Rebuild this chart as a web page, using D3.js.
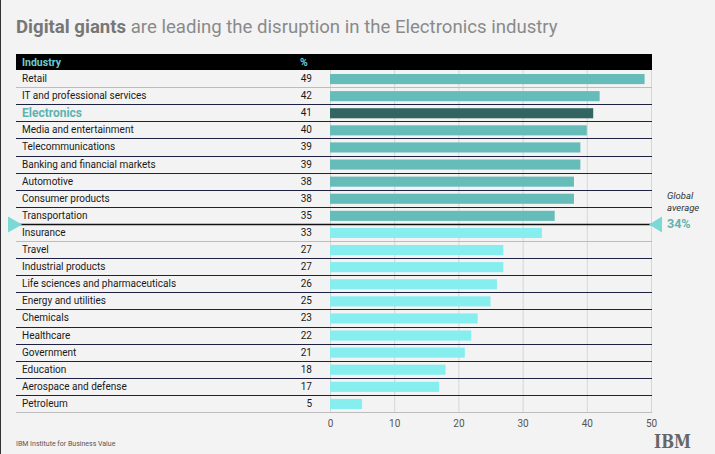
<!DOCTYPE html>
<html><head><meta charset="utf-8">
<script src="https://cdn.jsdelivr.net/npm/d3@7"></script>
<style>
html,body{margin:0;padding:0;background:#f3f3f3;}
svg{display:block;font-family:Roboto,"Noto Sans",sans-serif;}
</style></head>
<body>
<svg id="c" width="715" height="454"></svg>
<script>
const industries = ["Retail","IT and professional services","Electronics","Media and entertainment","Telecommunications","Banking and financial markets","Automotive","Consumer products","Transportation","Insurance","Travel","Industrial products","Life sciences and pharmaceuticals","Energy and utilities","Chemicals","Healthcare","Government","Education","Aerospace and defense","Petroleum"];
const values = [49,42,41,40,39,39,38,38,35,33,27,27,26,25,23,22,21,18,17,5];
const highlight = "Electronics";
const globalAverage = 34;
const xTicks = [0,10,20,30,40,50];

(function(){
const svg = d3.select("#c");
const L = 16, R = 652, T = 70, B = 412;

svg.append("rect").attr("width",715).attr("height",454).attr("fill","#f3f3f3");
svg.append("line").attr("x1",0.5).attr("x2",0.5).attr("y1",0).attr("y2",454).attr("stroke","#333").attr("stroke-width",1);

// title
const title = svg.append("text").attr("x",16).attr("y",33).attr("font-size",18.6).attr("fill","#8a8a8a");
title.append("tspan").attr("font-weight","bold").attr("fill","#777").text("Digital giants");
title.append("tspan").text(" are leading the disruption in the Electronics industry");

const x = d3.scaleLinear().domain([0,50]).range([330,651]);
const y = d3.scaleBand().domain(industries).range([T,B]).paddingInner(0).paddingOuter(0);

// header
svg.append("rect").attr("x",L).attr("y",54).attr("width",R-L).attr("height",16).attr("fill","#000");
svg.append("text").attr("x",22).attr("y",66).attr("font-size",10.5).attr("font-weight","bold").attr("fill","#6ccfcf").text("Industry");
svg.append("text").attr("x",300).attr("y",66).attr("font-size",10.5).attr("font-weight","bold").attr("fill","#6ccfcf").text("%");

// grid
svg.append("g").selectAll("line").data(xTicks).join("line")
  .attr("x1",d=>x(d)+0.5).attr("x2",d=>x(d)+0.5).attr("y1",T).attr("y2",B)
  .attr("stroke","#d6d6d6").attr("stroke-width",1);

// bars
const color = (d,i)=> d===highlight ? "#326462" : (values[i] > globalAverage ? "#66bcb9" : "#86eeee");
svg.append("g").selectAll("rect").data(industries).join("rect")
  .attr("x",x(0)).attr("y",d=>y(d)+4).attr("height",y.bandwidth()-7)
  .attr("width",(d,i)=>x(values[i])-x(0)).attr("fill",color);

// separators
const idxAvg = values.findIndex(v=>v<globalAverage);
svg.append("g").selectAll("line").data(industries).join("line")
  .attr("x1",L).attr("x2",R)
  .attr("y1",d=>Math.round(y(d)+y.bandwidth())+0.5).attr("y2",d=>Math.round(y(d)+y.bandwidth())+0.5)
  .attr("stroke",(d,i)=> (i===0||i===idxAvg||i===industries.length-1) ? "#bdbdbd" : (i===idxAvg-1 ? "#111" : "#1e2142"))
  .attr("stroke-width",(d,i)=> i===idxAvg-1 ? 1.3 : 1);

// labels
svg.append("g").selectAll("text").data(industries).join("text")
  .attr("x",22).attr("y",d=>y(d)+y.bandwidth()/2+ (d===highlight?4.5:3.5))
  .attr("font-size",d=>d===highlight?12:10)
  .attr("font-weight",d=>d===highlight?"bold":"normal")
  .attr("fill",d=>d===highlight?"#5fb3b0":"#1a1a1a")
  .text(d=>d);
svg.append("g").selectAll("text").data(industries).join("text")
  .attr("x",312).attr("y",d=>y(d)+y.bandwidth()/2+3.5).attr("text-anchor","end")
  .attr("font-size",10).attr("fill","#1a1a1a")
  .text((d,i)=>values[i]);

// x axis
const ax = svg.append("g").attr("transform",`translate(0,${B})`)
  .call(d3.axisBottom(x).tickValues(xTicks).tickSize(0).tickPadding(8));
ax.select(".domain").remove();
ax.selectAll("text").attr("font-size",10).attr("fill","#555").attr("font-family","Roboto,sans-serif");

// global average markers
const avgY = Math.round(y(industries[idxAvg]))+0.5;
svg.append("path").attr("d",`M8,${avgY-8}L22,${avgY}L8,${avgY+8}Z`).attr("fill","#7ad9d4");
svg.append("path").attr("d",`M662,${avgY-8}L649,${avgY}L662,${avgY+8}Z`).attr("fill","#7ad9d4");
svg.append("text").attr("x",667).attr("y",199).attr("font-size",9.5).attr("font-style","italic").attr("fill","#333").text("Global");
svg.append("text").attr("x",667).attr("y",211).attr("font-size",9.5).attr("font-style","italic").attr("fill","#333").text("average");
svg.append("text").attr("x",667).attr("y",228).attr("font-size",12.5).attr("font-weight","bold").attr("fill","#5fb3b0").text(globalAverage+"%");

// footer
svg.append("text").attr("x",16).attr("y",446).attr("font-size",7).attr("fill","#555").text("IBM Institute for Business Value");
const defs = svg.append("defs");
const pat = defs.append("pattern").attr("id","stripes").attr("patternUnits","userSpaceOnUse").attr("width",4).attr("height",2).attr("y",0.5);
pat.append("rect").attr("width",4).attr("height",1.4).attr("fill","#2a2a2a");
svg.append("text").attr("x",654).attr("y",448).attr("font-size",19).attr("font-weight","bold").attr("font-family","'DejaVu Serif',serif")
  .attr("textLength",37).attr("lengthAdjust","spacingAndGlyphs").attr("fill","url(#stripes)").text("IBM");
})();
</script>
</body></html>
